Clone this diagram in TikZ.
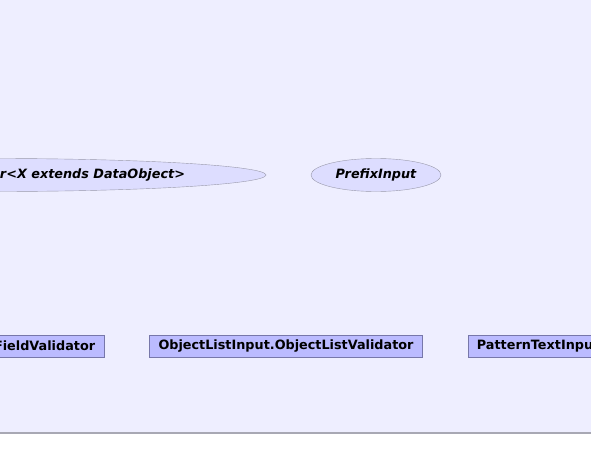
\documentclass[tikz,border=0pt]{standalone}
\usepackage{fontspec}
\setmainfont{DejaVu Sans}
\usetikzlibrary{positioning,shapes.geometric}
\definecolor{pagebg}{HTML}{EEEEFF}
\definecolor{classfill}{HTML}{BBBBFF}
\definecolor{classline}{HTML}{7777AA}
\definecolor{ifacefill}{HTML}{DDDDFF}
\definecolor{ifaceline}{HTML}{9999AA}
\definecolor{footline}{HTML}{A8A8B4}
\begin{document}
\begin{tikzpicture}[x=1pt, y=-1pt, node distance=45pt, font=\fontsize{12.8}{15}\selectfont\bfseries]
	\tikzstyle{classe} = [rectangle, draw=classline, fill=classfill, inner xsep=9pt, inner ysep=0pt, minimum height=22pt]
	\tikzstyle{iface} = [ellipse, draw=ifaceline, fill=ifacefill, inner sep=0pt, minimum height=33pt, font=\fontsize{12.8}{15}\selectfont\bfseries\itshape]
	\useasboundingbox (0,0) rectangle (591,471);
	\clip (0,0) rectangle (591,471);
	\fill[pagebg] (0,0) rectangle (591,433);
	\draw[footline, line width=1.5pt] (0,433) -- (591,433);
	% interfaces
	\node[iface, minimum width=542pt] (valshape) at (-5,175) {};
	\node[anchor=east, inner sep=0pt, font=\fontsize{12.8}{15}\selectfont\bfseries\itshape] (valtext) at ([xshift=-81pt]valshape.east) {r<X extends DataObject>};
	\node[iface, minimum width=130pt] (prefix) at (376,175) {PrefixInput};
	% classes
	\node[classe] (objlist) at (286,346) {ObjectListInput.ObjectListValidator};
	\node[classe, left=of objlist] (fieldval) {FieldValidator};
	\node[classe, right=of objlist] (pattern) {PatternTextInput};
\end{tikzpicture}
\end{document}
